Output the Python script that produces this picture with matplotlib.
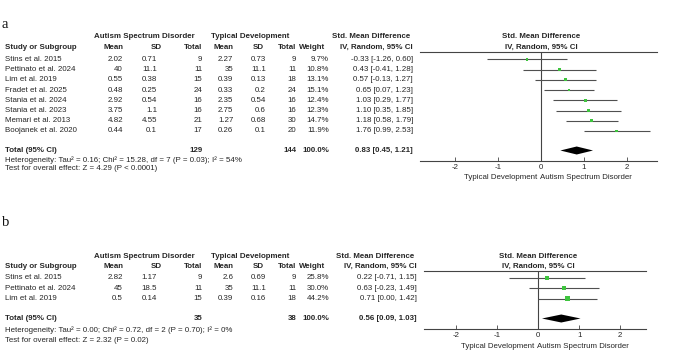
import matplotlib.pyplot as plt
from matplotlib.patches import Polygon
import numpy as np

plt.rcParams['font.family'] = ['Liberation Sans', 'DejaVu Sans']

# Panel a data
a_study = ["Stins et al. 2015", "Pettinato et al. 2024", "Lim et al. 2019", "Fradet et al. 2025",
           "Stania et al. 2024", "Stania et al. 2023", "Memari et al. 2013", "Boojanek et al. 2020"]
a_asd_mean = [2.02, 40, 0.55, 0.48, 2.92, 3.75, 4.82, 0.44]
a_asd_sd = [0.71, 11.1, 0.38, 0.25, 0.54, 1.1, 4.55, 0.1]
a_asd_n = [9, 11, 15, 24, 16, 16, 21, 17]
a_td_mean = [2.27, 35, 0.39, 0.33, 2.35, 2.75, 1.27, 0.26]
a_td_sd = [0.73, 11.1, 0.13, 0.2, 0.54, 0.6, 0.68, 0.1]
a_td_n = [9, 11, 18, 24, 16, 16, 30, 20]
a_weight = [9.7, 10.8, 13.1, 15.1, 12.4, 12.3, 14.7, 11.9]
a_smd = [-0.33, 0.43, 0.57, 0.65, 1.03, 1.10, 1.18, 1.76]
a_lo = [-1.26, -0.41, -0.13, 0.07, 0.29, 0.35, 0.58, 0.99]
a_hi = [0.60, 1.28, 1.27, 1.23, 1.77, 1.85, 1.79, 2.53]
a_total = [0.83, 0.45, 1.21]
a_het = "Heterogeneity: Tau\u00b2 = 0.16; Chi\u00b2 = 15.28, df = 7 (P = 0.03); I\u00b2 = 54%"
a_test = "Test for overall effect: Z = 4.29 (P < 0.0001)"

# Panel b data
b_study = ["Stins et al. 2015", "Pettinato et al. 2024", "Lim et al. 2019"]
b_asd_mean = [2.82, 45, 0.5]
b_asd_sd = [1.17, 18.5, 0.14]
b_asd_n = [9, 11, 15]
b_td_mean = [2.6, 35, 0.39]
b_td_sd = [0.69, 11.1, 0.16]
b_td_n = [9, 11, 18]
b_weight = [25.8, 30.0, 44.2]
b_smd = [0.22, 0.63, 0.71]
b_lo = [-0.71, -0.23, 0.00]
b_hi = [1.15, 1.49, 1.42]
b_total = [0.56, 0.09, 1.03]
b_het = "Heterogeneity: Tau\u00b2 = 0.00; Chi\u00b2 = 0.72, df = 2 (P = 0.70); I\u00b2 = 0%"
b_test = "Test for overall effect: Z = 2.32 (P = 0.02)"

W, H = 677, 351
fs = 5.7
tc = '#262626'
lc = '#505050'
green = '#3ec43e'

fig = plt.figure(figsize=(W / 100, H / 100), dpi=100)
bg = fig.add_axes([0, 0, 1, 1])
bg.set_xlim(0, W)
bg.set_ylim(H, 0)
bg.axis('off')

# column right edges (pixels)
col_mean1, col_sd1, col_n1 = 123, 157, 202.5
col_mean2, col_sd2, col_n2 = 233.5, 266, 296.5
col_w = 329


def txt(x, y, s, ha='right', bold=False, **kw):
    bg.text(x, y, s, ha=ha, va='center', fontsize=fs, color=tc,
            fontweight='bold' if bold else 'normal', **kw)


def panel(label, lay, study, m1, s1, n1, m2, s2, n2, wt, smd, lo, hi, total, het, test):
    bg.text(2, lay['label'], label, ha='left', va='center', fontsize=10.5,
            family=['Liberation Serif', 'DejaVu Serif'], color='#111')
    # headers
    txt(144, lay['h1'], "Autism Spectrum Disorder", ha='center', bold=True)
    txt(250, lay['h1'], "Typical Development", ha='center', bold=True)
    txt(lay['ci'] - 3, lay['h1'], "Std. Mean Difference", bold=True)
    txt(lay['zero'], lay['h1'], "Std. Mean Difference", ha='center', bold=True)
    txt(5, lay['h2'], "Study or Subgroup", ha='left', bold=True)
    for x, s in [(col_mean1, "Mean"), (162, "SD"), (col_n1, "Total"), (col_mean2, "Mean"),
                 (264, "SD"), (col_n2, "Total"), (325, "Weight"), (lay['ci'], "IV, Random, 95% CI")]:
        txt(x, lay['h2'], s, bold=True)
    txt(lay['zero'], lay['h2'], "IV, Random, 95% CI", ha='center', bold=True)

    ys = [lay['row0'] + i * lay['dy'] for i in range(len(study))]
    for i, y in enumerate(ys):
        txt(5, y, study[i], ha='left')
        txt(col_mean1, y, f"{m1[i]:g}")
        txt(col_sd1, y, f"{s1[i]:g}")
        txt(col_n1, y, f"{n1[i]}")
        txt(col_mean2, y, f"{m2[i]:g}")
        txt(col_sd2, y, f"{s2[i]:g}")
        txt(col_n2, y, f"{n2[i]}")
        txt(col_w, y, f"{wt[i]:.1f}%")
        txt(lay['ci'], y, f"{smd[i]:.2f} [{lo[i]:.2f}, {hi[i]:.2f}]")

    ty = lay['total']
    txt(5, ty, "Total (95% CI)", ha='left', bold=True)
    txt(col_n1, ty, f"{sum(n1)}", bold=True)
    txt(col_n2, ty, f"{sum(n2)}", bold=True)
    txt(col_w, ty, "100.0%", bold=True)
    txt(lay['ci'], ty, f"{total[0]:.2f} [{total[1]:.2f}, {total[2]:.2f}]", bold=True)
    txt(5, lay['het'], het, ha='left')
    txt(5, lay['test'], test, ha='left')

    # forest plot
    x0, x1 = lay['axl'], lay['axr']
    ax = fig.add_axes([x0 / W, 1 - lay['axis'] / H, (x1 - x0) / W, (lay['axis'] - lay['hline']) / H])
    ax.set_xlim((x0 - lay['zero']) / lay['unit'], (x1 - lay['zero']) / lay['unit'])
    ax.set_ylim(lay['axis'], lay['hline'])
    ax.patch.set_alpha(0)
    for sp in ['left', 'right']:
        ax.spines[sp].set_visible(False)
    for sp in ['top', 'bottom']:
        ax.spines[sp].set_color('#444')
        ax.spines[sp].set_linewidth(0.8)
    ax.axvline(0, color='#444', lw=0.8)
    ax.hlines(ys, lo, hi, color=lc, lw=0.8)
    # square side grows with study weight
    sides = [(1.6 + 0.085 * w) * 0.72 for w in wt]
    ax.scatter(smd, ys, marker='s', s=[s ** 2 for s in sides], color=green, linewidths=0, zorder=3)
    h = 4.0
    ax.add_patch(Polygon([(total[1], ty), (total[0], ty - h), (total[2], ty), (total[0], ty + h)],
                         closed=True, color='black', lw=0))
    ticks = [-2, -1, 0, 1, 2]
    ax.set_xticks(ticks)
    ax.set_xticklabels([str(t) for t in ticks])
    ax.set_yticks([])
    ax.tick_params(axis='x', direction='in', length=3, width=0.6, labelsize=fs,
                   colors='#444', labelcolor=tc, pad=2)
    txt(lay['zero'] - 4, lay['foot'], "Typical Development")
    txt(lay['zero'] - 1, lay['foot'], "Autism Spectrum Disorder", ha='left')


lay_a = dict(label=25, h1=36, h2=47.3, row0=59.3, dy=10.24, total=150.5, het=160, test=168.3,
             hline=51.7, axis=161, foot=177.7, zero=541, unit=43, axl=420, axr=657, ci=413)
lay_b = dict(label=223, h1=256, h2=266.3, row0=277.7, dy=10.5, total=318.5, het=330, test=340.7,
             hline=271, axis=329.3, foot=346, zero=538.3, unit=41, axl=424, axr=646, ci=417)

panel('a', lay_a, a_study, a_asd_mean, a_asd_sd, a_asd_n, a_td_mean, a_td_sd, a_td_n,
      a_weight, a_smd, a_lo, a_hi, a_total, a_het, a_test)
panel('b', lay_b, b_study, b_asd_mean, b_asd_sd, b_asd_n, b_td_mean, b_td_sd, b_td_n,
      b_weight, b_smd, b_lo, b_hi, b_total, b_het, b_test)

fig.savefig('out.png', dpi=100)
